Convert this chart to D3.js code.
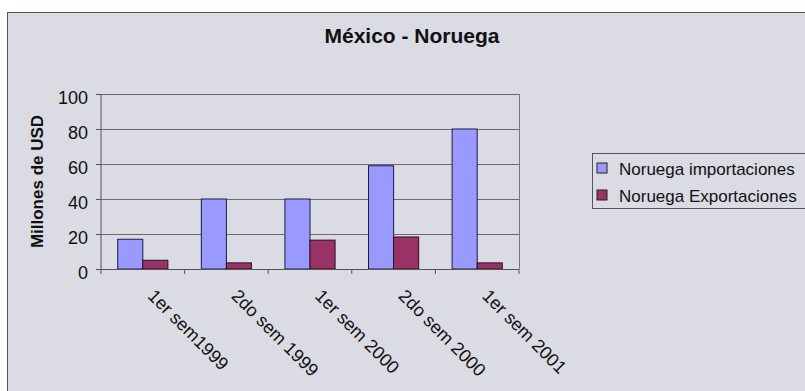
<!DOCTYPE html>
<html>
<head>
<meta charset="utf-8">
<title>México - Noruega</title>
<style>
body { margin: 0; background: #fff; }
svg { font-family: 'Liberation Sans', Arial, sans-serif; }
.title { font-size: 21px; font-weight: bold; fill: #111; text-anchor: middle; }
.ylabel { font-size: 17px; font-weight: bold; fill: #111; text-anchor: middle; }
.axis text { font-size: 18px; fill: #111; font-family: 'Liberation Sans', Arial, sans-serif; }
.axis path, .axis line { stroke: #555; }
.grid line { stroke: #6a6a6a; }
.legend text { font-size: 17px; fill: #111; }
</style>
</head>
<body>
<svg width="805" height="391"></svg>
<script src="https://d3js.org/d3.v7.min.js"></script>
<script>
// data
var periods = ["1er sem1999", "2do sem 1999", "1er sem 2000", "2do sem 2000", "1er sem 2001"];
var importaciones = [17, 40, 40, 59, 80];
var exportaciones = [5, 3.5, 16.5, 18.3, 3.5];
var seriesNames = ["Noruega importaciones", "Noruega Exportaciones"];
var seriesColors = ["#9999ff", "#993366"];
var yTicks = [0, 20, 40, 60, 80, 100];

var svg = d3.select("svg");

// chart area with border
svg.append("rect")
  .attr("x", 7.5).attr("y", 12.5)
  .attr("width", 820).attr("height", 400)
  .attr("fill", "#dadbe3")
  .attr("stroke", "#555");

var plot = { left: 101, right: 519, top: 94, bottom: 269 };

var x0 = d3.scaleBand()
  .domain(periods)
  .range([plot.left, plot.right])
  .paddingInner(0.4)
  .paddingOuter(0.2);
var x1 = d3.scaleBand()
  .domain([0, 1])
  .range([0, x0.bandwidth()]);
var y = d3.scaleLinear().domain([0, 100]).range([plot.bottom, plot.top]);

// grid
svg.append("g").attr("class", "grid")
  .selectAll("line")
  .data(yTicks.slice(1))
  .join("line")
  .attr("x1", plot.left).attr("x2", plot.right)
  .attr("y1", d => Math.round(y(d)) + 0.5).attr("y2", d => Math.round(y(d)) + 0.5);

// right border of the plot
svg.append("line")
  .attr("x1", plot.right + 0.5).attr("x2", plot.right + 0.5)
  .attr("y1", plot.top).attr("y2", plot.bottom)
  .attr("stroke", "#777");

// bars
var rows = periods.map((p, i) => ({ p: p, v: [importaciones[i], exportaciones[i]] }));
var groups = svg.append("g").selectAll("g")
  .data(rows)
  .join("g")
  .attr("transform", d => "translate(" + x0(d.p) + ",0)");
groups.selectAll("rect")
  .data(d => d.v.map((v, k) => ({ k: k, v: v })))
  .join("rect")
  .attr("x", d => x1(d.k))
  .attr("y", d => y(d.v))
  .attr("width", x1.bandwidth())
  .attr("height", d => y(0) - y(d.v))
  .attr("fill", d => seriesColors[d.k])
  .attr("stroke", d => d.k === 0 ? "#1a1a4a" : "#2a1020")
  .attr("stroke-width", 1);

// y axis
svg.append("g").attr("class", "axis")
  .attr("transform", "translate(" + plot.left + ",0)")
  .call(d3.axisLeft(y).tickValues(yTicks).tickSize(5).tickPadding(8))
  .call(g => g.select(".domain").attr("d", "M0," + plot.top + "V" + plot.bottom))
  .call(g => g.selectAll(".tick text").attr("dy", "0.5em"));

// x axis: ticks at category boundaries
var bounds = d3.range(periods.length + 1).map(i => plot.left + i * (plot.right - plot.left) / periods.length);
var xa = svg.append("g").attr("class", "axis");
xa.append("line")
  .attr("x1", plot.left).attr("x2", plot.right)
  .attr("y1", plot.bottom + 0.5).attr("y2", plot.bottom + 0.5);
xa.selectAll(".tk")
  .data(bounds)
  .join("line")
  .attr("class", "tk")
  .attr("x1", d => d).attr("x2", d => d)
  .attr("y1", plot.bottom).attr("y2", plot.bottom + 5);
xa.selectAll("text")
  .data(periods)
  .join("text")
  .attr("transform", d => "translate(" + (x0(d) + x0.bandwidth() / 2 + 4) + "," + (plot.bottom + 28) + ") rotate(45)")
  .text(d => d);

// titles
svg.append("text").attr("class", "title")
  .attr("x", 412).attr("y", 43)
  .text("México - Noruega");
svg.append("text").attr("class", "ylabel")
  .attr("transform", "translate(43," + ((plot.top + plot.bottom) / 2) + ") rotate(-90)")
  .text("Millones de USD");

// legend
var legend = svg.append("g").attr("class", "legend")
  .attr("transform", "translate(592,153)");
legend.append("rect")
  .attr("x", 0.5).attr("y", 0.5)
  .attr("width", 240).attr("height", 55)
  .attr("fill", "none").attr("stroke", "#555");
var items = legend.selectAll("g.item")
  .data(seriesNames)
  .join("g").attr("class", "item")
  .attr("transform", (d, i) => "translate(5," + (15 + i * 27) + ")");
items.append("rect")
  .attr("x", 0).attr("y", -5)
  .attr("width", 10).attr("height", 10)
  .attr("fill", (d, i) => seriesColors[i])
  .attr("stroke", "#222");
items.append("text")
  .attr("x", 22).attr("y", 7)
  .text(d => d);
</script>
</body>
</html>
